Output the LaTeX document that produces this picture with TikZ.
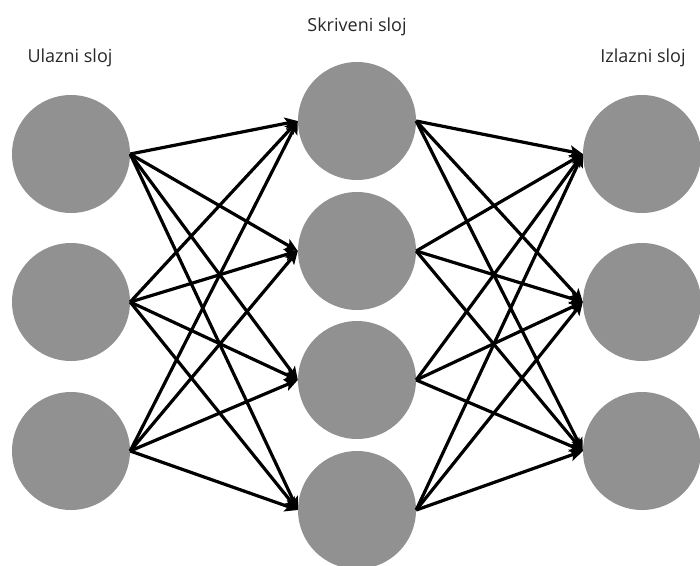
\documentclass[tikz,border=0pt]{standalone}
\usepackage{fontspec}
\setmainfont{Open Sans}
\usetikzlibrary{arrows.meta}
\definecolor{neuron}{RGB}{145,145,145}
\definecolor{labeltext}{RGB}{40,40,40}
\tikzset{
  neuronnode/.style={circle,fill=neuron,draw=none,inner sep=0pt,minimum size=118pt},
  layerlabel/.style={text=labeltext,font=\fontsize{18}{20}\selectfont,inner sep=0pt,anchor=base},
  conn/.style={line width=3.2pt,black,-{Stealth[length=13pt,width=12pt,inset=3pt]}}
}
\begin{document}
\begin{tikzpicture}[x=1pt,y=-1pt]
\useasboundingbox (0,0) rectangle (700,565);
\node[neuronnode] (i1) at (71,154) {};
\node[neuronnode] (i2) at (71,302) {};
\node[neuronnode] (i3) at (71,451) {};
\node[neuronnode] (h1) at (357,121) {};
\node[neuronnode] (h2) at (357,251) {};
\node[neuronnode] (h3) at (357,380) {};
\node[neuronnode] (h4) at (357,510) {};
\node[neuronnode] (o1) at (642,154) {};
\node[neuronnode] (o2) at (642,302) {};
\node[neuronnode] (o3) at (642,451) {};
\node[layerlabel] (li) at (70,62) {Ulazni sloj};
\node[layerlabel] (lh) at (357,31) {Skriveni sloj};
\node[layerlabel] (lo) at (643,62) {Izlazni sloj};
\foreach \a in {i1,i2,i3}{
  \foreach \b in {h1,h2,h3,h4}{
    \draw[conn] (\a.east) -- (\b.west);
  }
}
\foreach \a in {h1,h2,h3,h4}{
  \foreach \b in {o1,o2,o3}{
    \draw[conn] (\a.east) -- (\b.west);
  }
}
\end{tikzpicture}
\end{document}
